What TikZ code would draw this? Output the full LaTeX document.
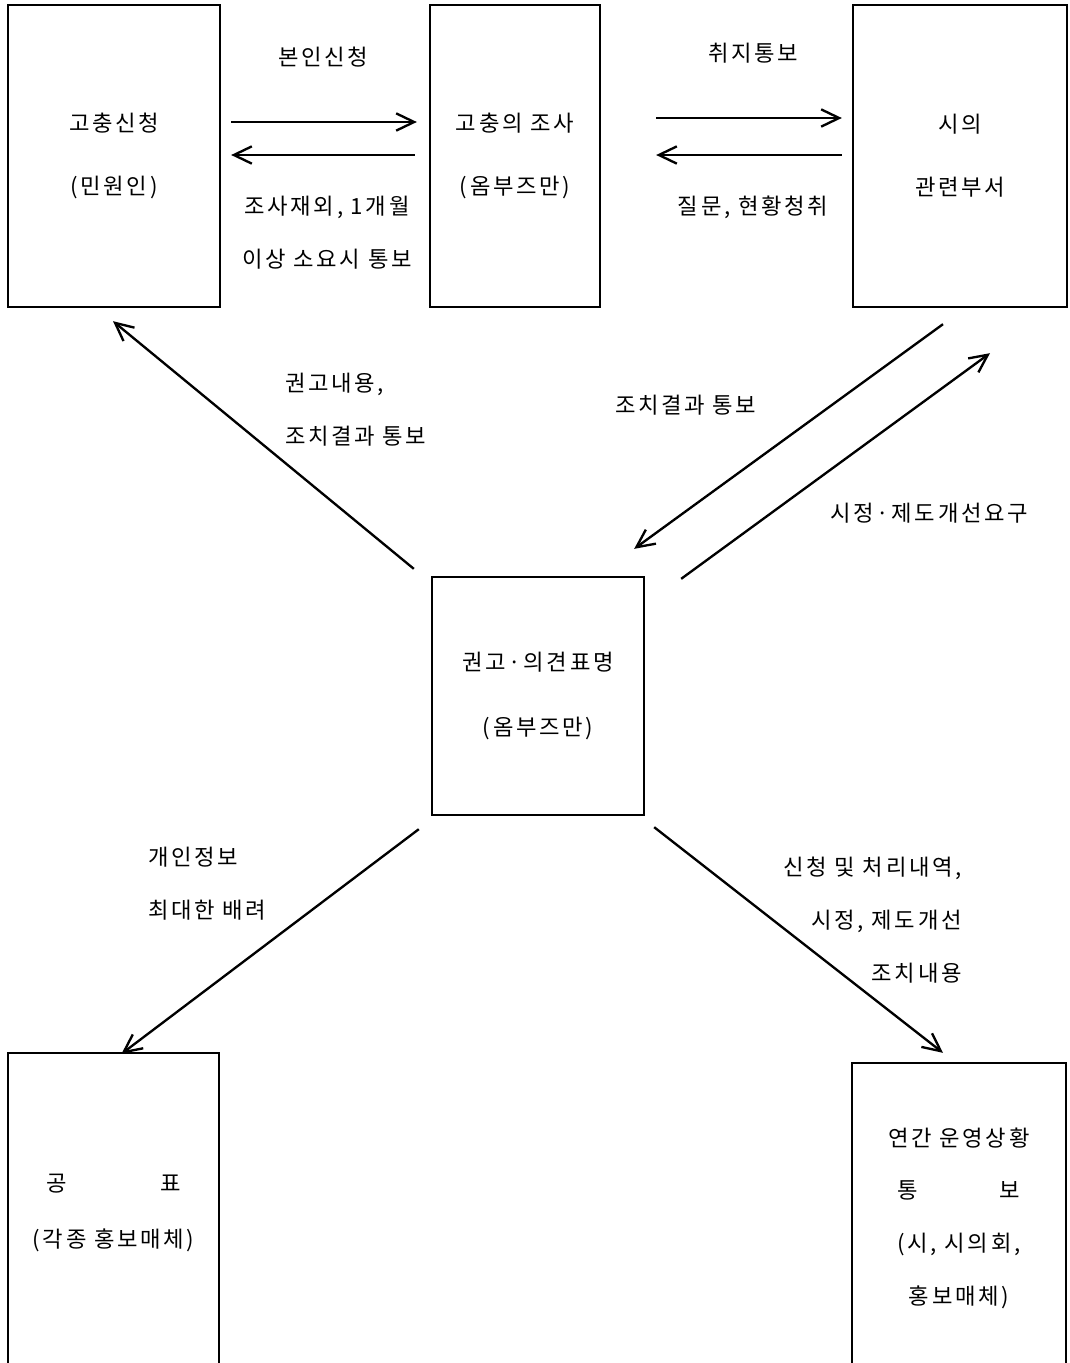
\documentclass[tikz,border=0pt]{standalone}
\usepackage{fontspec}
\setmainfont{Noto Sans CJK KR}[LetterSpace=12]
\usetikzlibrary{arrows.meta,calc}

\begin{document}
\begin{tikzpicture}[x=.03cm,y=-.03cm,
    font=\fontsize{19pt}{45pt}\selectfont,
    box/.style={draw,line width=2pt,align=center,inner sep=0pt},
    arr/.style={-{Straight Barb[length=5.4mm,width=5.2mm]},line width=2pt},
    lbl/.style={inner sep=0pt}]
    \useasboundingbox (0,0) rectangle (1070,1363);
    \clip (0,0) rectangle (1070,1363);
    \node[box,minimum width=6.36cm,minimum height=9.06cm] (A) at (114,156) {고충신청\\[8.6pt](민원인)};
    \node[box,minimum width=5.1cm,minimum height=9.06cm] (B) at (515,156) {고충의 조사\\[8.6pt](옴부즈만)};
    \node[box,minimum width=6.42cm,minimum height=9.06cm] (C) at (960,156) {시의\\[8.6pt]관련부서};
    \node[box,minimum width=6.36cm,minimum height=7.14cm] (D) at (538,696) {권고·의견표명\\[10pt](옴부즈만)};
    \node[box,minimum width=6.33cm,minimum height=9.6cm] (E) at (113.5,1213) {공\hspace{2.8cm}표\\[3.5pt](각종 홍보매체)};
    \node[box,minimum width=6.42cm,minimum height=9.3cm] (F) at (959,1218) {연간 운영상황\\통\hspace{2.45cm}보\\(시, 시의회,\\홍보매체)};
    \node[lbl] (l1) at (323,57) {본인신청};
    \node[lbl,align=center] (l2) at (327,233) {조사재외, 1개월\\이상 소요시 통보};
    \node[lbl] (l3) at (753,53) {취지통보};
    \node[lbl] (l4) at (753,207) {질문, 현황청취};
    \node[lbl,align=left,anchor=west] (l5) at (285,410) {권고내용,\\조치결과 통보};
    \node[lbl,anchor=west] (l6) at (615,405) {조치결과 통보};
    \node[lbl,anchor=west] (l7) at (830,513) {시정·제도개선요구};
    \node[lbl,align=left,anchor=west] (l8) at (148,884) {개인정보\\최대한 배려};
    \node[lbl,align=right,anchor=east] (l9) at (962,920) {신청 및 처리내역,\\시정, 제도개선\\조치내용};
    \draw[arr] ($(A.east)+(10,-34)$) -- ($(B.west)+(-12,-34)$);
    \draw[arr] ($(B.west)+(-14,-1)$) -- ($(A.east)+(10,-1)$);
    \draw[arr] ($(B.east)+(55,-38)$) -- ($(C.west)+(-10,-38)$);
    \draw[arr] ($(C.west)+(-10,-1)$) -- ($(B.east)+(55,-1)$);
    \draw[arr] ($(D.north west)+(-17,-7)$) -- ($(A.south)+(-1,13)$);
    \draw[arr] ($(C.south)+(-17,16)$) -- ($(D.north east)+(-11,-27)$);
    \draw[arr] ($(D.north east)+(36,3)$) -- ($(C.south)+(30,45)$);
    \draw[arr] ($(D.south west)+(-12,13)$) -- ($(E.north)+(8,2)$);
    \draw[arr] ($(D.south east)+(9,11)$) -- ($(F.north)+(-16,-9)$);
\end{tikzpicture}
\end{document}
